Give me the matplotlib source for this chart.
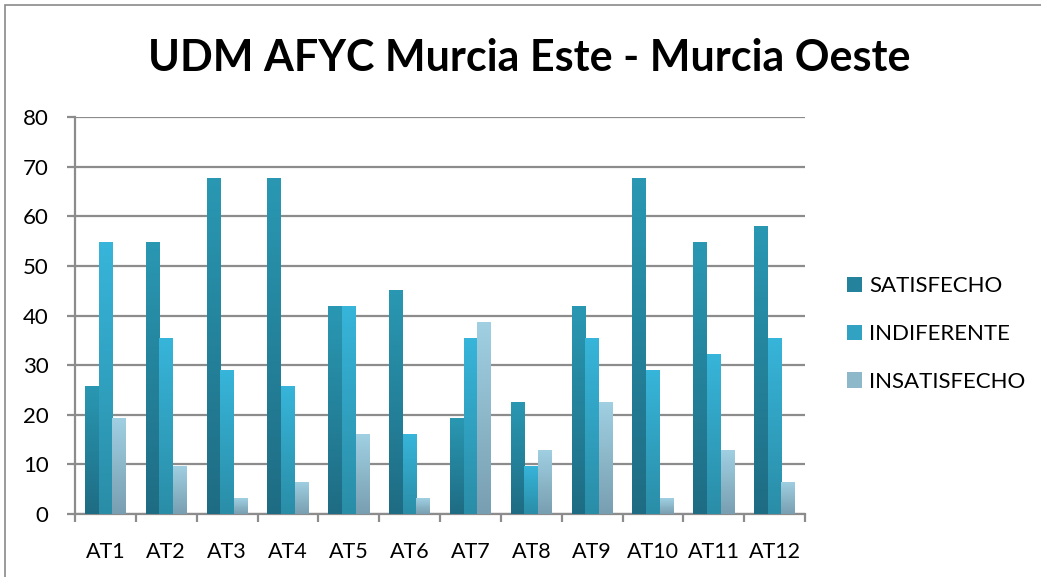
import matplotlib
matplotlib.use("Agg")
import matplotlib.pyplot as plt
import numpy as np
from matplotlib.colors import LinearSegmentedColormap
from matplotlib.patches import Rectangle, Patch

categories = ["AT1", "AT2", "AT3", "AT4", "AT5", "AT6", "AT7", "AT8", "AT9", "AT10", "AT11", "AT12"]
satisfecho = [25.8, 54.8, 67.7, 67.7, 41.9, 45.2, 19.4, 22.6, 41.9, 67.7, 54.8, 58.1]
indiferente = [54.8, 35.5, 29.0, 25.8, 41.9, 16.1, 35.5, 9.7, 35.5, 29.0, 32.3, 35.5]
insatisfecho = [19.4, 9.7, 3.2, 6.5, 16.1, 3.2, 38.7, 12.9, 22.6, 3.2, 12.9, 6.5]
series_names = ["SATISFECHO", "INDIFERENTE", "INSATISFECHO"]
title = "UDM AFYC Murcia Este - Murcia Oeste"

# (top colour, bottom colour, legend colour)
grads = [("#2a98b3", "#1e6c83", "#24829c"),
         ("#37b5da", "#2a8da7", "#31a2c2"),
         ("#a0d0e2", "#789fb1", "#8cb8ca")]

plt.rcParams['font.family'] = ['Lato', 'DejaVu Sans']

fig = plt.figure(figsize=(10.41, 5.77), dpi=100)
fig.patch.set_facecolor("white")
# chart border
fig.add_artist(Rectangle((5/1041, -0.01), 1.02, 1 - 5/577 + 0.01, transform=fig.transFigure,
                         fill=False, edgecolor="#8a8a8a", linewidth=1.2))

ax = fig.add_axes([75/1041, 1 - 514/577, (805-75)/1041, (514-117)/577])
x = np.arange(len(categories))
w = 0.225
data = [satisfecho, indiferente, insatisfecho]
for i, vals in enumerate(data):
    top, bot, mid = grads[i]
    bars = ax.bar(x + (i - 1) * w, vals, width=w, color=mid, zorder=3, linewidth=0)
    cmap = LinearSegmentedColormap.from_list("g%d" % i, [bot, top])
    grad = np.linspace(0, 1, 256).reshape(-1, 1)
    for b in bars:
        bx, by = b.get_x(), b.get_y()
        bw, bh = b.get_width(), b.get_height()
        im = ax.imshow(grad, cmap=cmap, origin="lower", aspect="auto",
                       extent=[bx, bx + bw, by, by + bh], zorder=3.5)
        im.set_clip_path(b)

ax.set_xlim(-0.5, len(categories) - 0.5)
ax.set_ylim(0, 80)
ax.set_yticks(np.arange(0, 81, 10))
ax.set_xticks(x)
ax.set_xticklabels(categories)
ax.set_xticks(np.arange(-0.5, len(categories), 1), minor=True)
ax.yaxis.grid(True, color="#8c8c8c", linewidth=1.6, zorder=0)
ax.set_axisbelow(True)
for s in ["top", "right"]:
    ax.spines[s].set_visible(False)
for s in ["left", "bottom"]:
    ax.spines[s].set_color("#8c8c8c")
    ax.spines[s].set_linewidth(1.6)
ax.tick_params(axis="y", length=6, width=1.6, color="#8c8c8c", labelsize=16, pad=13)
ax.tick_params(axis="x", which="major", length=0, labelsize=15.5, pad=20)
ax.tick_params(axis="x", which="minor", length=6, width=1.6, color="#8c8c8c")

fig.text(529/1041, 1 - 58/577, title, ha="center", va="center", fontsize=31, fontweight="bold")

handles = [Patch(facecolor=grads[i][2], edgecolor="none") for i in range(3)]
leg = fig.legend(handles, series_names, loc="center left", bbox_to_anchor=(827/1041, 1 - 334/577),
                 frameon=False, fontsize=16, handlelength=0.68, handleheight=0.68,
                 handletextpad=0.32, labelspacing=1.25)

fig.savefig("out.png", dpi=100, facecolor="white")
